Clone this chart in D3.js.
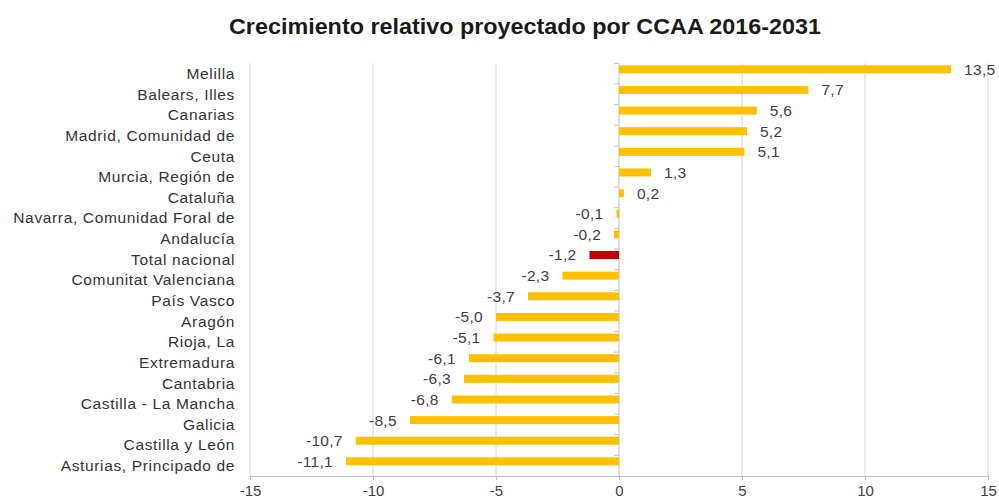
<!DOCTYPE html>
<html><head><meta charset="utf-8">
<script src="https://cdn.jsdelivr.net/npm/d3@7"></script>
<style>body{margin:0;background:#fff;}svg{display:block;font-family:"Liberation Sans",Arial,sans-serif;}</style>
</head><body><svg id="c" width="999" height="502"></svg>
<script>
const title = "Crecimiento relativo proyectado por CCAA 2016-2031";
const categories = ["Melilla","Balears, Illes","Canarias","Madrid, Comunidad de","Ceuta","Murcia, Región de","Cataluña","Navarra, Comunidad Foral de","Andalucía","Total nacional","Comunitat Valenciana","País Vasco","Aragón","Rioja, La","Extremadura","Cantabria","Castilla - La Mancha","Galicia","Castilla y León","Asturias, Principado de"];
const values = [13.5,7.7,5.6,5.2,5.1,1.3,0.2,-0.1,-0.2,-1.2,-2.3,-3.7,-5.0,-5.1,-6.1,-6.3,-6.8,-8.5,-10.7,-11.1];
const highlight = ["Total nacional"];
const xTicks = [-15,-10,-5,0,5,10,15];

const svg = d3.select("#c");
const pL = 250, pR = 988, pT = 63.3, pB = 476;
const x = d3.scaleLinear().domain([-15,15]).range([pL,pR]);
const y = d3.scaleBand().domain(categories).range([pT,pB]).padding(0);
const loc = d3.formatLocale({decimal:",",thousands:".",grouping:[3],currency:["","€"],minus:"-"});
const fmt = loc.format(".1f");
const tfmt = loc.format("d");

// title
svg.append("text").attr("x",525).attr("y",34).attr("text-anchor","middle")
  .attr("font-size",21.5).attr("font-weight","bold").attr("fill","#1a1a1a")
  .attr("textLength",592).attr("lengthAdjust","spacingAndGlyphs").text(title);

// gridlines
svg.append("g").selectAll("line").data(xTicks.filter(d=>d!==0)).join("line")
  .attr("x1",d=>x(d)).attr("x2",d=>x(d)).attr("y1",pT).attr("y2",pB)
  .attr("stroke","#d4d4d4").attr("stroke-width",1);

// x axis
const xa = svg.append("g").attr("transform",`translate(0,${pB})`)
  .call(d3.axisBottom(x).tickValues(xTicks).tickFormat(tfmt).tickSizeInner(4).tickSizeOuter(0).tickPadding(5));
xa.select(".domain").attr("stroke","#bfbfbf");
xa.selectAll(".tick line").attr("stroke","#bfbfbf");
xa.selectAll(".tick text").attr("font-size",15).attr("fill","#404040").attr("font-family","Liberation Sans, Arial, sans-serif");

// zero axis with category ticks
svg.append("line").attr("x1",x(0)).attr("x2",x(0)).attr("y1",pT).attr("y2",pB).attr("stroke","#bfbfbf");
svg.append("g").selectAll("line").data(categories).join("line")
  .attr("x1",x(0)-5).attr("x2",x(0)).attr("y1",d=>y(d)).attr("y2",d=>y(d)).attr("stroke","#bfbfbf");

// bars
svg.append("g").selectAll("rect").data(categories).join("rect")
  .attr("x",(d,i)=>Math.min(x(0),x(values[i])))
  .attr("y",d=>y(d)+2)
  .attr("width",(d,i)=>Math.abs(x(values[i])-x(0)))
  .attr("height",8)
  .attr("fill",d=>highlight.includes(d)?"#c00000":"#ffc000");

// value labels
svg.append("g").selectAll("text").data(categories).join("text")
  .attr("x",(d,i)=>values[i]>=0 ? x(values[i])+13 : x(values[i])-13)
  .attr("y",d=>y(d)+6)
  .attr("dy","0.35em")
  .attr("text-anchor",(d,i)=>values[i]>=0?"start":"end")
  .attr("font-size",15.5).attr("letter-spacing",0.3).attr("fill","#404040")
  .text((d,i)=>fmt(values[i]));

// category labels
svg.append("g").selectAll("text").data(categories).join("text")
  .attr("x",235).attr("y",d=>y(d)+y.bandwidth()/2)
  .attr("dy","0.35em").attr("text-anchor","end")
  .attr("font-size",15.5).attr("letter-spacing",0.65).attr("fill","#333333")
  .text(d=>d);
</script></body></html>
